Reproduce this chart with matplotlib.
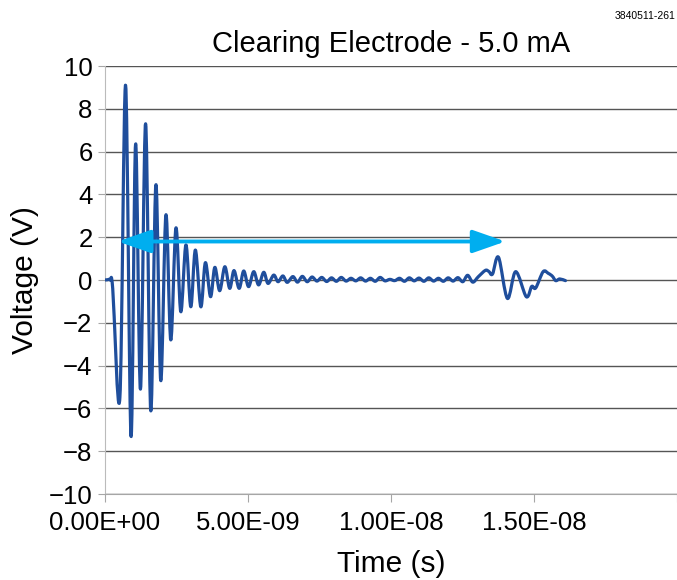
import numpy as np
import matplotlib
matplotlib.use('Agg')
import matplotlib.pyplot as plt
import matplotlib.patches as patches
from matplotlib.path import Path

plt.rcParams['font.family'] = ['Liberation Sans', 'DejaVu Sans']

# waveform (time in ns, voltage in V)
time_ns = [0.00, 0.08, 0.18, 0.27, 0.52, 0.72, 0.91, 1.07, 1.24, 1.42, 1.60, 1.78,
           1.95, 2.13, 2.30, 2.48, 2.65, 2.83, 3.00, 3.16, 3.35, 3.51, 3.69, 3.84,
           4.01, 4.19, 4.36, 4.51, 4.69, 4.85, 5.02, 5.20, 5.37, 5.55, 5.70, 5.90,
           6.05, 6.22, 6.37, 6.57, 6.73, 6.90, 7.07, 7.24, 7.41, 7.58, 7.75, 7.92,
           8.09, 8.26, 8.43, 8.60, 8.77, 8.94, 9.11, 9.28, 9.45, 9.62, 9.79, 9.96,
           10.13, 10.30, 10.47, 10.64, 10.81, 10.98, 11.15, 11.32, 11.49, 11.66, 11.83, 12.00,
           12.17, 12.34, 12.51, 12.68, 12.86, 13.05, 13.30, 13.42, 13.55, 13.76, 14.07, 14.36,
           14.73, 14.92, 15.06, 15.32, 15.50, 15.64, 15.76, 15.90, 16.10]
volts = [0.00, 0.01, 0.00, -0.40, -5.50, 9.10, -7.30, 6.35, -5.10, 7.30, -6.10, 4.45,
         -4.70, 3.04, -2.80, 2.43, -1.48, 1.64, -1.25, 1.40, -1.25, 0.81, -0.78, 0.59,
         -0.50, 0.62, -0.39, 0.44, -0.39, 0.42, -0.31, 0.39, -0.23, 0.36, -0.16, 0.23,
         -0.08, 0.19, -0.11, 0.16, -0.10, 0.17, -0.08, 0.14, -0.05, 0.12, -0.07, 0.10,
         -0.06, 0.12, -0.05, 0.08, -0.04, 0.10, -0.05, 0.08, -0.06, 0.12, -0.04, 0.03,
         -0.03, 0.08, -0.06, 0.10, -0.04, 0.09, -0.06, 0.10, -0.05, 0.08, -0.06, 0.10,
         -0.05, 0.11, -0.08, 0.22, -0.10, 0.15, 0.45, 0.40, 0.28, 1.06, -0.86, 0.39,
         -0.78, -0.30, -0.37, 0.39, 0.31, 0.18, -0.03, 0.05, -0.03]

arrow_from_ns = 0.45
arrow_to_ns = 14.0
arrow_level = 1.8

xtick_vals = [0, 5e-9, 1e-8, 1.5e-8, 2e-8]
xtick_labels = ['0.00E+00', '5.00E-09', '1.00E-08', '1.50E-08', '']
ytick_vals = list(range(-10, 11, 2))


def smooth_path(xs, ys):
    # Excel style smoothed line: Catmull-Rom through the points as cubic Beziers
    pts = np.column_stack([xs, ys])
    n = len(pts)
    verts = [pts[0]]
    codes = [Path.MOVETO]
    for i in range(n - 1):
        p0 = pts[max(i - 1, 0)]
        p1 = pts[i]
        p2 = pts[i + 1]
        p3 = pts[min(i + 2, n - 1)]
        verts += [p1 + (p2 - p0) / 6, p2 - (p3 - p1) / 6, p2]
        codes += [Path.CURVE4] * 3
    return Path(verts, codes)


fig = plt.figure(figsize=(6.77, 5.80), dpi=100)
ax = fig.add_axes([105 / 677, 1 - 494 / 580, 572 / 677, (494 - 66) / 580])

t = np.array(time_ns) * 1e-9
ax.add_patch(patches.PathPatch(smooth_path(t, volts), fill=False,
                               edgecolor='#1f4e9c', lw=2.3, zorder=3,
                               capstyle='round', joinstyle='round'))

ax.add_patch(patches.FancyArrowPatch((arrow_from_ns * 1e-9, arrow_level),
                                     (arrow_to_ns * 1e-9, arrow_level),
                                     arrowstyle='<|-|>,head_length=20,head_width=7',
                                     mutation_scale=1, lw=2.8, color='#00aeef',
                                     shrinkA=0, shrinkB=0, zorder=4))

ax.set_xlim(0, 2e-8)
ax.set_ylim(-10, 10)
ax.set_xticks(xtick_vals)
ax.set_xticklabels(xtick_labels)
ax.set_yticks(ytick_vals)

ax.grid(axis='y', color='#555555', lw=1.0)
ax.set_axisbelow(True)
for s in ['top', 'right']:
    ax.spines[s].set_visible(False)
ax.spines['left'].set_color('#bbbbbb')
ax.spines['bottom'].set_color('#a6a6a6')
ax.tick_params(axis='x', colors='#a6a6a6', length=6, labelcolor='black',
               labelsize=18.5, pad=6)
ax.tick_params(axis='y', colors='#a6a6a6', length=5, labelcolor='black',
               labelsize=18.5, pad=4)

ax.set_xlabel('Time (s)', fontsize=21.5, labelpad=11)
ax.set_ylabel('Voltage (V)', fontsize=21.5, labelpad=7)
ax.set_title('Clearing Electrode - 5.0 mA', fontsize=21, pad=10)
fig.text(0.998, 0.972, '3840511-261', ha='right', va='center', fontsize=7.5)

fig.savefig('out.png', dpi=100)
